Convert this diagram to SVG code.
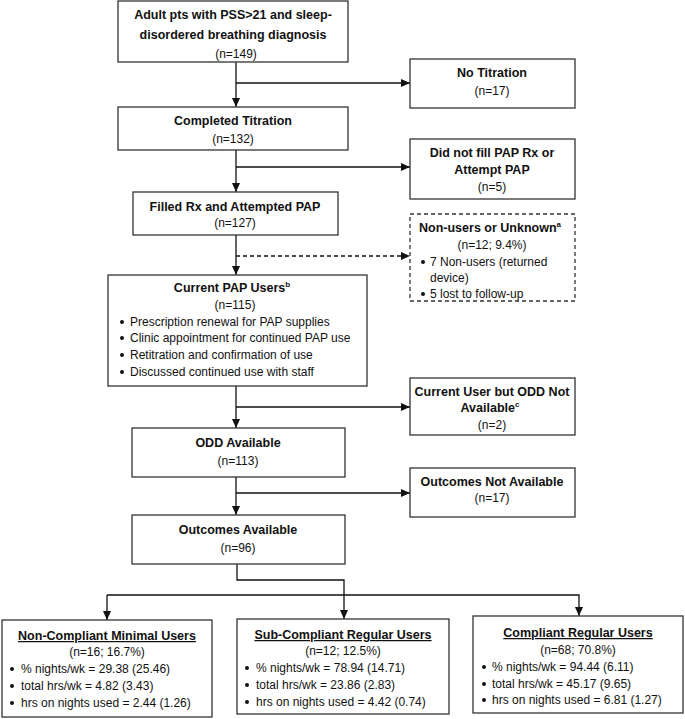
<svg xmlns="http://www.w3.org/2000/svg" width="685" height="719" viewBox="0 0 685 719">
<defs>
<style>
.box{fill:#fff;stroke:#333;stroke-width:1.3}
.dbox{fill:#fff;stroke:#333;stroke-width:1.3;stroke-dasharray:4,3}
.b{font-family:"Liberation Sans",Arial,sans-serif;font-size:12.5px;font-weight:bold;fill:#111;text-anchor:middle}
.t{font-family:"Liberation Sans",Arial,sans-serif;font-size:12px;fill:#111;text-anchor:middle}
.l{font-family:"Liberation Sans",Arial,sans-serif;font-size:12px;fill:#111}
.u{text-decoration:underline}
.c{fill:none;stroke:#111;stroke-width:1.3}
.cd{fill:none;stroke:#111;stroke-width:1.3;stroke-dasharray:4,3}
.dot{fill:#111}
</style>
<marker id="ah" viewBox="0 0 9 8" refX="9" refY="4" markerWidth="9" markerHeight="8" markerUnits="userSpaceOnUse" orient="auto">
<path d="M0,0 L9,4 L0,8 z" fill="#111"/>
</marker>
</defs>

<g id="connectors">
<path class="c" d="M236,62 V107" marker-end="url(#ah)"/>
<path class="c" d="M236,83 H410" marker-end="url(#ah)"/>
<path class="c" d="M236,150 V192" marker-end="url(#ah)"/>
<path class="c" d="M236,167 H410" marker-end="url(#ah)"/>
<path class="c" d="M236,235 V275" marker-end="url(#ah)"/>
<path class="cd" d="M236,256 H410" marker-end="url(#ah)"/>
<path class="c" d="M236,386 V428" marker-end="url(#ah)"/>
<path class="c" d="M236,407 H410" marker-end="url(#ah)"/>
<path class="c" d="M236,477 V515" marker-end="url(#ah)"/>
<path class="c" d="M236,493 H410" marker-end="url(#ah)"/>
<path class="c" d="M237,564 V580 H344 V619" marker-end="url(#ah)"/>
<path class="c" d="M107,595 H579 V616" marker-end="url(#ah)"/>
<path class="c" d="M107,595 V620" marker-end="url(#ah)"/>
</g>

<g id="n-start">
<rect class="box" x="118" y="1" width="230" height="61"/>
<text class="b" x="233" y="19">Adult pts with PSS&gt;21 and sleep-</text>
<text class="b" x="233" y="39">disordered breathing diagnosis</text>
<text class="t" x="236" y="58">(n=149)</text>
</g>

<g id="n-notitration">
<rect class="box" x="410" y="59" width="165" height="49"/>
<text class="b" x="492" y="77">No Titration</text>
<text class="t" x="492" y="95">(n=17)</text>
</g>

<g id="n-completed">
<rect class="box" x="118" y="107" width="230" height="43"/>
<text class="b" x="233" y="125">Completed Titration</text>
<text class="t" x="233" y="143">(n=132)</text>
</g>

<g id="n-didnotfill">
<rect class="box" x="410" y="139" width="165" height="60"/>
<text class="b" x="492" y="157">Did not fill PAP Rx or</text>
<text class="b" x="492" y="174">Attempt PAP</text>
<text class="t" x="492" y="191">(n=5)</text>
</g>

<g id="n-filled">
<rect class="box" x="133" y="192" width="205" height="43"/>
<text class="b" x="235" y="211">Filled Rx and Attempted PAP</text>
<text class="t" x="235" y="227">(n=127)</text>
</g>

<g id="n-nonusers">
<rect class="dbox" x="410" y="214" width="165" height="87"/>
<text class="b" x="490" y="232">Non-users or Unknown<tspan font-size="8" dy="-5">a</tspan></text>
<text class="t" x="492" y="249">(n=12; 9.4%)</text>
<circle class="dot" cx="423" cy="262" r="2"/>
<text class="l" x="430" y="266">7 Non-users (returned</text>
<text class="l" x="430" y="282">device)</text>
<circle class="dot" cx="423" cy="294" r="2"/>
<text class="l" x="430" y="298">5 lost to follow-up</text>
</g>

<g id="n-current">
<rect class="box" x="108" y="275" width="259" height="111"/>
<text class="b" x="232" y="292">Current PAP Users<tspan font-size="8" dy="-5">b</tspan></text>
<text class="t" x="235" y="309">(n=115)</text>
<circle class="dot" cx="122" cy="322" r="2"/>
<text class="l" x="130" y="326">Prescription renewal for PAP supplies</text>
<circle class="dot" cx="122" cy="338" r="2"/>
<text class="l" x="130" y="342">Clinic appointment for continued PAP use</text>
<circle class="dot" cx="122" cy="355" r="2"/>
<text class="l" x="130" y="359">Retitration and confirmation of use</text>
<circle class="dot" cx="122" cy="372" r="2"/>
<text class="l" x="130" y="376">Discussed continued use with staff</text>
</g>

<g id="n-oddna">
<rect class="box" x="410" y="378" width="165" height="57"/>
<text class="b" x="492" y="396">Current User but ODD Not</text>
<text class="b" x="490" y="412">Available<tspan font-size="8" dy="-5">c</tspan></text>
<text class="t" x="492" y="429">(n=2)</text>
</g>

<g id="n-odd">
<rect class="box" x="132" y="428" width="213" height="49"/>
<text class="b" x="238" y="447">ODD Available</text>
<text class="t" x="238" y="465">(n=113)</text>
</g>

<g id="n-outna">
<rect class="box" x="410" y="468" width="165" height="49"/>
<text class="b" x="492" y="486">Outcomes Not Available</text>
<text class="t" x="492" y="502">(n=17)</text>
</g>

<g id="n-outcomes">
<rect class="box" x="132" y="515" width="213" height="49"/>
<text class="b" x="238" y="534">Outcomes Available</text>
<text class="t" x="238" y="552">(n=96)</text>
</g>

<g id="n-noncompliant">
<rect class="box" x="2" y="620" width="210" height="97"/>
<text class="b u" x="107" y="640">Non-Compliant Minimal Users</text>
<text class="t" x="107" y="656">(n=16; 16.7%)</text>
<circle class="dot" cx="12" cy="669" r="2"/>
<text class="l" x="21" y="673">% nights/wk = 29.38 (25.46)</text>
<circle class="dot" cx="12" cy="686" r="2"/>
<text class="l" x="21" y="690">total hrs/wk = 4.82 (3.43)</text>
<circle class="dot" cx="12" cy="703" r="2"/>
<text class="l" x="21" y="707">hrs on nights used = 2.44 (1.26)</text>
</g>

<g id="n-subcompliant">
<rect class="box" x="237" y="619" width="212" height="95"/>
<text class="b u" x="343" y="639">Sub-Compliant Regular Users</text>
<text class="t" x="343" y="655">(n=12; 12.5%)</text>
<circle class="dot" cx="247" cy="668" r="2"/>
<text class="l" x="256" y="672">% nights/wk = 78.94 (14.71)</text>
<circle class="dot" cx="247" cy="685" r="2"/>
<text class="l" x="256" y="689">total hrs/wk = 23.86 (2.83)</text>
<circle class="dot" cx="247" cy="702" r="2"/>
<text class="l" x="256" y="706">hrs on nights used = 4.42 (0.74)</text>
</g>

<g id="n-compliant">
<rect class="box" x="473" y="616" width="210" height="97"/>
<text class="b u" x="578" y="637">Compliant Regular Users</text>
<text class="t" x="578" y="654">(n=68; 70.8%)</text>
<circle class="dot" cx="484" cy="667" r="2"/>
<text class="l" x="492" y="671">% nights/wk = 94.44 (6.11)</text>
<circle class="dot" cx="484" cy="684" r="2"/>
<text class="l" x="492" y="688">total hrs/wk = 45.17 (9.65)</text>
<circle class="dot" cx="484" cy="700" r="2"/>
<text class="l" x="492" y="704">hrs on nights used = 6.81 (1.27)</text>
</g>
</svg>
